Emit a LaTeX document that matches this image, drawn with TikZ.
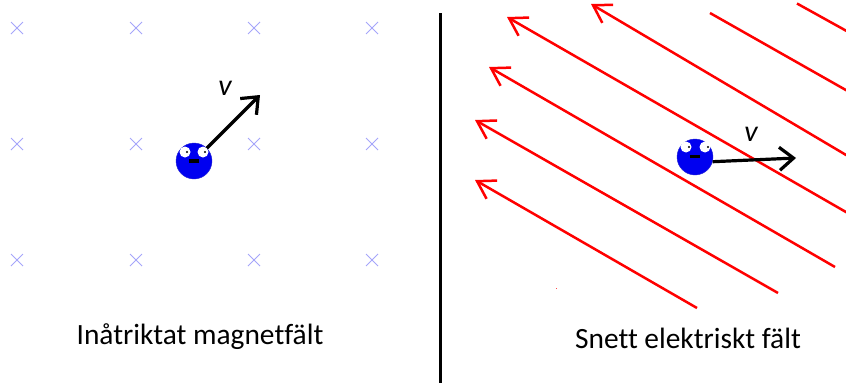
\documentclass[tikz,border=0pt]{standalone}
\usepackage{fontspec}
\setmainfont[Ligatures=NoCommon]{Carlito}
\usetikzlibrary{arrows.meta}
\definecolor{crosscol}{RGB}{165,165,250}
\definecolor{ballblue}{RGB}{0,0,240}
\tikzset{
  x=1pt,y=-1pt,
  fieldarrow/.style={draw=red,line width=2.5pt,-{Straight Barb[length=17pt,width=21pt,line width=2.5pt]}},
  fieldline/.style={draw=red,line width=2.5pt},
  velarrow/.style={draw=black,line width=3.2pt,-{Straight Barb[length=14pt,width=23pt,line width=3.2pt]}},
  crossmark/.style={draw=crosscol,line width=1pt},
  ballnode/.style={circle,fill=ballblue,draw=ballblue!70!gray,line width=0.4pt,inner sep=0pt,minimum size=36pt},
  eyenode/.style={circle,fill=white,inner sep=0pt,minimum size=11pt},
  pupilnode/.style={circle,fill=black,inner sep=0pt,minimum size=2.4pt},
  mouthnode/.style={rectangle,fill=black,inner sep=0pt,minimum width=10pt,minimum height=3.4pt},
  caption/.style={inner sep=0pt,font=\fontsize{29.4}{33}\selectfont},
  vlabel/.style={inner sep=0pt,font=\fontsize{30}{34}\selectfont\itshape},
}
\newcommand{\xcross}[2]{\draw[crossmark] (#1-6,#2-6) -- (#1+6,#2+6) (#1-6,#2+6) -- (#1+6,#2-6);}
\begin{document}
\begin{tikzpicture}
\useasboundingbox (0,0) rectangle (846,383);
\clip (0,0) rectangle (846,383);
% crosses
\foreach \cx in {17,136,254,372}{\foreach \cy in {28,144,260}{\xcross{\cx}{\cy}}}
% divider
\coordinate (divtop) at (440,13);
\coordinate (divbot) at (440,383);
\draw[line width=3pt] (divtop) -- (divbot);
% field lines
\coordinate (a1) at (697,308); \coordinate (b1) at (475,180);
\coordinate (a2) at (778,293); \coordinate (b2) at (475,120);
\coordinate (a3) at (835,267); \coordinate (b3) at (489,67);
\coordinate (a4) at (852,215.5); \coordinate (b4) at (507,17);
\coordinate (a5) at (852,158.5); \coordinate (b5) at (591,4);
\coordinate (a6) at (852,93.5); \coordinate (b6) at (710,13);
\coordinate (a7) at (852,34); \coordinate (b7) at (797,3.5);
\draw[fieldarrow] (a1) -- (b1);
\draw[fieldarrow] (a2) -- (b2);
\draw[fieldarrow] (a3) -- (b3);
\draw[fieldarrow] (a4) -- (b4);
\draw[fieldarrow] (a5) -- (b5);
\draw[fieldline] (a6) -- (b6);
\draw[fieldline] (a7) -- (b7);
\fill[red!70] (555.5,287.8) rectangle (557,288.6);
% left charge
\node[ballnode] (ballL) at (194,161) {};
\node[eyenode] (eyeLa) at (185,152) {};
\node[eyenode] (eyeLb) at (203,152) {};
\node[pupilnode] (pupLa) at (187,152) {};
\node[pupilnode] (pupLb) at (205,152) {};
\node[mouthnode] (mouthL) at (194,161) {};
\coordinate (velL) at (260,95);
\draw[velarrow] (ballL.45) -- (velL);
\node[vlabel] (vL) at (225,88) {v};
% right charge
\node[ballnode] (ballR) at (695,157) {};
\node[eyenode] (eyeRa) at (686,147) {};
\node[eyenode] (eyeRb) at (705,147) {};
\node[pupilnode] (pupRa) at (689,147) {};
\node[pupilnode] (pupRb) at (708,147) {};
\node[mouthnode] (mouthR) at (695,156.5) {};
\coordinate (velR) at (796,158);
\draw[velarrow] (ballR.-15) -- (velR);
\node[vlabel] (vR) at (751,134) {v};
% captions
\node[caption] (capL) at (200,337) {Inåtriktat magnetfält};
\node[caption] (capR) at (688,338) {Snett elektriskt fält};
\end{tikzpicture}
\end{document}
